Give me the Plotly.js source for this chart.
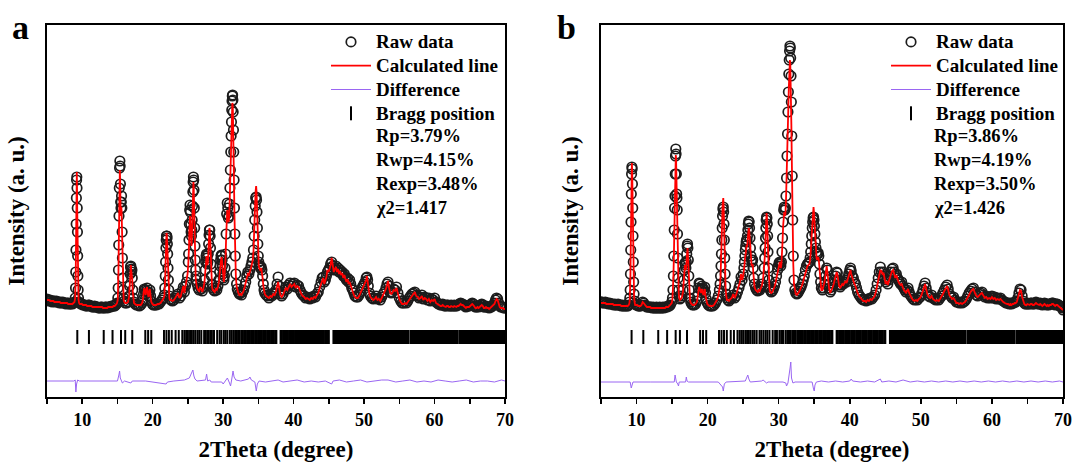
<!DOCTYPE html>
<html><head><meta charset="utf-8">
<script src="https://cdn.plot.ly/plotly-3.0.1.min.js"></script>
<style>html,body{margin:0;padding:0;background:#fff;} #chart{width:1077px;height:466px;}</style>
</head><body><div id="chart"></div>
<script>
// ---------- Panel a: observed / calculated profile ----------
const tthA = [
5.0,5.15,5.3,5.45,5.6,5.75,5.9,6.05,6.2,6.35,6.5,6.65,6.8,6.95,7.1,7.25,7.4,7.55,7.7,7.85,8.0,8.15,8.3,8.45,8.6,8.75,
8.9,9.0,9.05,9.08,9.11,9.14,9.17,9.2,9.23,9.26,9.29,9.32,9.35,9.38,9.42,9.47,9.55,9.65,
9.8,9.95,10.1,10.25,10.4,10.55,10.7,10.85,11.0,11.15,11.3,11.45,11.6,11.75,11.9,12.05,12.2,12.35,12.5,12.65,12.8,12.95,13.1,13.25,13.4,13.55,13.7,13.85,14.0,14.15,14.3,14.45,14.6,14.75,14.85,
14.95,15.05,15.1,15.14,15.18,15.22,15.26,15.3,15.34,15.38,15.42,15.46,15.5,15.54,15.58,15.62,15.66,15.7,15.75,15.8,15.88,15.97,16.1,
16.3,16.5,16.65,16.72,16.79,16.85,16.9,16.95,17.0,17.05,17.1,17.17,17.25,17.35,17.5,
17.7,17.9,18.1,18.3,18.5,
18.6,18.7,18.8,18.9,19.0,19.1,19.2,19.3,19.4,19.5,19.6,19.7,19.8,19.95,
20.1,20.3,20.5,20.7,20.9,21.1,21.3,21.5,
21.65,21.72,21.78,21.83,21.88,21.92,21.96,22.0,22.04,22.08,22.12,22.17,22.22,22.28,22.36,22.45,
22.6,22.8,23.0,23.2,23.4,23.6,23.8,24.0,24.2,24.35,24.5,24.65,24.8,24.95,25.05,
25.1,25.15,25.2,25.25,25.3,25.35,25.4,25.45,25.5,25.55,25.6,25.65,25.7,25.74,25.78,25.82,25.86,25.9,25.95,26.0,26.05,26.1,26.15,26.2,26.3,
26.45,26.6,26.75,26.9,27.05,27.2,27.35,27.45,
27.52,27.58,27.64,27.7,27.76,27.82,27.88,27.94,28.0,28.05,28.1,28.15,28.2,28.26,28.33,28.42,28.52,
28.65,28.8,28.95,29.1,29.25,29.4,29.5,
29.58,29.64,29.7,29.75,29.8,29.85,29.9,29.96,30.02,30.1,
30.18,30.26,30.34,30.42,30.5,30.58,30.66,30.74,30.82,30.9,30.96,31.02,31.08,31.13,31.18,31.22,31.26,31.3,31.34,31.38,31.42,31.46,31.5,31.55,31.6,31.66,31.72,31.8,31.9,32.0,
32.15,32.3,32.45,32.6,32.75,32.9,33.05,33.2,33.35,33.5,33.65,33.8,
33.95,34.08,34.2,34.3,34.4,34.48,34.55,34.62,34.68,34.74,34.8,34.86,34.92,34.98,35.05,35.12,35.2,35.3,35.4,35.5,35.6,35.7,35.8,35.9,
36.1,36.3,36.5,36.7,36.9,37.1,37.3,37.5,37.65,37.8,37.95,38.1,38.3,38.5,38.7,38.9,39.1,39.3,39.5,39.7,
39.9,40.1,40.3,40.5,40.7,40.9,41.1,41.3,41.5,41.7,41.9,42.1,42.3,42.5,42.7,42.9,43.1,43.3,43.5,43.7,
43.9,44.05,44.2,44.35,44.5,44.65,44.8,44.95,45.1,45.25,45.4,45.55,45.7,45.85,46.0,46.15,46.3,46.45,46.6,46.75,
46.9,47.05,47.2,47.35,47.5,47.65,47.8,47.95,48.1,48.25,48.4,48.55,48.7,48.9,49.1,49.3,49.5,49.7,49.85,50.0,
50.15,50.3,50.4,50.5,50.6,50.75,50.9,51.1,51.3,51.5,51.7,51.9,52.1,52.3,52.5,52.7,52.9,53.1,53.25,53.4,
53.55,53.7,53.85,54.0,54.2,54.4,54.6,54.8,55.0,55.2,55.4,55.6,55.8,56.0,56.2,56.4,56.6,56.8,57.0,57.2,
57.4,57.6,57.8,58.0,58.2,58.4,58.6,58.8,59.0,59.2,59.4,59.6,59.8,60.0,60.2,
60.4,60.55,60.7,60.85,61.0,61.15,61.3,61.45,61.6,61.75,61.9,62.05,62.2,62.35,62.5,62.65,62.8,62.95,63.1,63.25,
63.4,63.55,63.7,63.85,64.0,64.15,64.3,64.45,64.6,64.75,64.9,65.05,65.2,65.35,65.5,65.65,65.8,65.95,66.1,66.25,
66.4,66.55,66.7,66.85,67.0,67.15,67.3,67.45,67.6,67.75,67.9,68.05,68.2,68.35,68.5,68.65,68.8,68.95,69.1,69.25,
69.4,69.55,69.7,69.85,70.0
];
const obsA = [
21,20,19,20,19,18,19,19,18,19,18,18,17,18,17,18,17,17,16,17,17,16,16,17,16,17,
18,22,32,48,70,96,122,140,143,132,112,88,64,44,30,22,18,17,
16,16,15,15,15,14,14,15,15,14,14,13,13,14,13,13,13,12,12,13,13,12,12,13,13,12,13,13,13,14,14,14,14,15,16,
17,22,32,50,75,104,132,152,159,154,136,118,112,118,124,112,88,62,42,30,22,19,17,
17,18,24,34,46,53,54,51,48,50,42,30,22,18,16,
15,15,14,15,17,
20,26,31,30,26,29,32,28,24,27,30,24,19,16,
15,15,15,16,16,18,20,22,
25,32,44,58,72,80,84,84,82,76,66,52,40,30,24,21,
20,19,20,22,24,26,22,24,29,33,28,34,38,44,58,
66,80,96,110,115,108,96,88,84,90,100,114,128,138,143,140,130,112,92,74,60,50,44,40,36,
32,30,34,31,29,33,40,50,
58,64,66,62,56,58,66,76,85,90,90,84,72,56,44,36,32,
30,29,32,30,34,40,48,
54,60,64,65,64,60,54,46,42,40,
44,52,66,86,106,117,112,102,104,116,132,150,168,184,198,210,219,224,225,220,208,190,168,140,112,86,64,46,36,31,
28,26,27,25,28,30,34,38,44,48,46,50,
54,58,62,70,84,100,114,122,123,120,108,92,76,64,58,55,54,52,53,50,44,36,30,27,
25,24,22,25,24,27,26,30,36,43,34,26,24,26,30,33,31,35,37,34,
36,37,33,35,34,30,27,25,24,22,23,22,21,23,22,24,23,26,28,33,
38,42,43,38,40,44,48,50,52,56,58,54,50,52,54,50,52,48,50,47,
48,44,46,42,40,42,38,40,36,32,30,27,24,23,23,25,28,32,34,36,
38,42,43,40,34,27,24,22,21,22,24,21,22,20,23,26,28,32,36,38,
34,28,27,28,31,30,33,27,22,19,17,17,18,17,19,22,24,26,27,28,
25,24,22,23,25,21,23,22,20,22,19,21,20,22,18,
17,16,16,15,15,16,15,14,14,15,15,14,14,15,14,14,15,14,14,15,
15,16,17,16,16,15,14,13,14,14,14,15,16,17,16,14,13,13,14,13,
14,15,16,15,13,13,14,13,13,12,13,13,14,15,17,20,22,21,17,14,
13,13,13,12,12
];
const calcA = [
20,20,20,19,19,19,19,18,18,18,18,18,18,17,17,17,17,17,17,17,16,16,16,16,16,17,
18,22,31,47,70,98,126,146,148,134,110,84,60,41,28,21,17,16,
16,16,15,15,15,15,14,14,14,14,14,13,13,13,13,13,13,13,13,13,13,12,12,12,12,12,13,13,13,13,13,14,14,15,16,
17,21,30,48,72,100,128,146,150,140,120,104,106,113,110,94,72,50,34,25,20,18,17,
17,18,23,33,45,53,55,50,47,49,40,28,21,17,16,
15,15,15,15,17,
20,27,32,29,25,30,33,27,23,28,31,23,18,16,
15,15,15,16,16,17,19,21,
24,31,43,57,72,82,87,86,80,72,62,48,36,28,22,20,
20,19,20,22,25,27,22,24,30,34,27,33,40,46,56,
60,72,88,100,104,96,86,78,74,80,92,104,118,130,138,134,120,100,80,62,50,42,38,35,32,
30,29,33,31,28,32,38,47,
54,62,64,60,55,57,64,75,86,92,90,82,68,52,40,33,30,
29,28,31,30,33,38,46,
52,58,62,63,62,58,52,45,40,38,
42,50,62,82,100,110,106,98,100,112,128,146,162,178,192,204,212,217,216,210,198,180,158,132,106,82,62,44,34,30,
27,25,26,25,27,29,33,37,42,46,45,48,
52,56,60,68,82,100,118,130,134,128,110,90,72,60,55,52,50,49,52,48,42,34,28,26,
24,23,22,24,23,26,25,29,34,38,32,25,23,25,29,32,30,34,36,33,
35,36,32,34,33,29,26,24,23,21,22,21,20,22,21,23,22,25,27,32,
37,40,42,36,39,43,50,48,51,55,62,52,48,51,53,48,51,46,49,45,
47,42,45,41,38,41,36,38,34,30,28,25,23,22,22,24,27,31,33,35,
37,40,44,38,32,26,23,21,20,21,23,20,21,19,22,25,27,31,35,39,
32,27,26,27,30,29,32,26,21,18,16,16,17,16,18,21,23,25,26,28,
24,23,21,22,24,20,22,21,19,21,18,20,19,21,17,
16,15,15,14,14,15,14,13,13,14,14,13,13,14,13,13,14,13,13,14,
14,15,16,15,15,14,13,12,13,13,13,14,15,16,15,13,12,12,13,12,
13,14,15,14,12,12,13,12,12,11,12,12,13,14,16,19,21,20,16,13,
12,12,12,11,11
];
const diffXA = [5,8.8,9.0,9.1,9.2,9.35,9.6,12,15.0,15.2,15.3,15.4,15.55,15.7,16,16.9,17.1,19,21.9,22.1,
23,24.5,25.2,25.4,25.7,25.85,26,26.3,27.5,27.65,27.8,28.1,28.3,29.8,30,30.3,30.6,30.9,31.05,31.2,
31.4,31.55,31.8,32.5,33.6,33.8,34.0,34.5,34.7,34.85,35.1,
36,37,37.8,38.5,39.5,40.5,41.5,42.5,43.5,44.5,45.4,45.6,46.5,47.5,48.5,49.5,50.4,51.5,52.5,53.4,
54.5,55.5,56.5,57.5,58.5,59.5,60.5,61.5,62.5,63.5,64.5,65.5,66.5,67.5,68.5,69.5,70];
const diffYA = [-61,-61,-60,-72,-64,-60,-61,-61,-61,-55,-51,-58,-60,-63,-61,-63,-61,-61,-64,-62,
-61,-60,-58,-55,-50,-56,-59,-61,-60,-54,-61,-60,-62,-62,-64,-61,-58,-63,-66,-60,
-51,-57,-60,-61,-59,-57,-60,-62,-71,-64,-61,
-62,-61,-60,-62,-61,-60,-62,-61,-62,-61,-64,-61,-60,-62,-61,-60,-62,-61,-60,-60,
-62,-61,-60,-62,-61,-62,-60,-61,-62,-61,-60,-62,-61,-61,-62,-60,-61];

// ---------- Panel b ----------
const tthB = [
5.0,5.15,5.3,5.45,5.6,5.75,5.9,6.05,6.2,6.35,6.5,6.65,6.8,6.95,7.1,7.25,7.4,7.55,7.7,7.85,8.0,8.15,8.3,8.45,8.6,8.75,8.9,9.0,
9.05,9.1,9.14,9.18,9.22,9.26,9.3,9.34,9.38,9.42,9.46,9.5,9.54,9.59,9.65,9.72,9.8,
9.95,10.1,10.25,10.4,10.55,10.7,10.85,11.0,11.15,11.3,11.45,11.6,11.75,11.9,12.05,12.2,12.35,12.5,12.65,12.8,12.95,13.1,13.25,13.4,13.55,13.7,13.85,14.0,14.15,14.3,14.45,14.6,14.75,14.95,
15.05,15.12,15.18,15.24,15.3,15.35,15.4,15.44,15.48,15.52,15.56,15.6,15.64,15.68,15.72,15.76,15.8,15.86,15.93,16.0,16.1,
16.25,16.4,16.55,16.65,16.72,16.8,16.87,16.94,17.0,17.06,17.12,17.17,17.22,17.28,17.35,17.43,17.52,17.62,
17.75,17.9,18.1,18.3,18.5,
18.6,18.7,18.8,18.9,19.0,19.1,19.2,19.3,19.4,19.5,19.6,19.7,19.8,19.95,20.1,
20.3,20.5,20.7,20.9,21.1,21.3,21.5,21.65,
21.75,21.82,21.88,21.94,22.0,22.05,22.1,22.15,22.2,22.25,22.3,22.35,22.4,22.46,22.53,22.62,22.72,
22.85,23.0,23.2,23.4,23.6,23.8,24.0,24.2,24.4,24.55,24.7,24.85,25.0,
25.1,25.17,25.24,25.3,25.36,25.42,25.48,25.54,25.6,25.66,25.72,25.78,25.84,25.9,25.96,26.02,26.1,26.18,26.26,26.34,26.42,26.5,26.6,
26.75,26.9,27.05,27.2,27.35,27.5,27.65,27.8,27.95,
28.03,28.09,28.14,28.19,28.24,28.29,28.34,28.39,28.44,28.49,28.55,28.62,28.7,28.8,
28.95,29.1,29.25,29.4,29.55,29.7,29.85,
29.95,30.05,30.15,30.22,30.3,30.38,30.46,30.54,30.62,30.7,30.78,30.86,30.94,31.02,31.1,31.17,31.24,31.3,31.36,31.42,31.48,31.53,31.58,31.63,31.68,31.73,31.78,31.84,31.9,31.97,32.05,32.15,32.27,
32.4,32.55,32.7,32.85,33.0,33.15,33.3,33.45,33.6,33.75,33.9,
34.05,34.2,34.32,34.42,34.5,34.58,34.65,34.72,34.78,34.84,34.9,34.96,35.02,35.09,35.16,35.24,35.32,35.4,35.48,35.56,35.64,35.72,35.8,35.9,36.0,
36.15,36.3,36.45,36.6,36.75,36.85,36.95,37.1,37.25,37.4,37.55,37.7,37.85,38.0,38.15,38.25,38.35,38.5,38.65,38.8,
38.95,39.1,39.25,39.4,39.55,39.7,39.85,40.0,40.1,40.2,40.35,40.5,40.65,40.8,40.95,41.1,41.3,41.5,41.7,41.9,
42.1,42.3,42.5,42.7,42.9,43.1,43.3,43.5,43.7,43.85,44.0,44.15,44.3,44.45,44.6,44.75,44.9,45.05,45.2,45.35,
45.5,45.65,45.8,45.95,46.1,46.25,46.4,46.55,46.7,46.85,47.0,47.15,47.3,47.45,47.6,47.75,47.9,48.05,48.2,48.35,
48.5,48.7,48.9,49.1,49.3,49.5,49.7,49.9,50.1,50.3,50.45,50.6,50.75,50.9,51.1,51.3,51.5,51.7,51.9,52.1,
52.3,52.5,52.7,52.9,53.1,53.3,53.5,53.7,53.85,54.0,54.2,54.4,54.6,54.8,55.0,55.2,55.4,55.6,55.8,56.0,
56.2,56.4,56.6,56.8,57.0,57.2,57.4,57.6,57.8,58.0,58.2,58.4,58.6,58.8,59.0,59.2,59.4,59.6,59.8,60.0,
60.2,60.4,60.6,60.8,61.0,61.2,61.4,61.6,61.8,62.0,
62.15,62.3,62.45,62.6,62.75,62.9,63.05,63.2,63.35,63.5,63.65,63.8,63.95,64.1,64.25,64.4,64.55,64.7,64.85,65.0,
65.15,65.3,65.45,65.6,65.75,65.9,66.05,66.2,66.35,66.5,66.65,66.8,66.95,67.1,67.25,67.4,67.55,67.7,67.85,68.0,
68.15,68.3,68.45,68.6,68.75,68.9,69.05,69.2,69.35,69.5,69.65,69.8,69.9,70.0
];
const obsB = [
18,18,17,17,18,17,17,16,17,16,16,16,15,16,15,15,16,15,15,14,15,14,14,15,14,14,15,18,
22,30,46,70,98,126,146,153,151,136,112,84,58,38,26,19,16,
15,15,14,14,14,15,18,17,15,14,13,13,13,13,13,12,13,12,12,13,12,12,13,12,12,13,12,13,13,13,14,14,15,18,
22,30,44,64,90,112,124,146,164,171,166,146,126,122,110,86,62,42,30,24,21,
22,24,30,40,50,57,55,52,58,66,74,76,72,60,44,30,22,18,
16,15,15,16,19,
24,32,37,36,31,30,34,32,28,30,33,27,21,17,15,
14,14,14,15,17,20,24,30,
36,44,54,66,80,92,104,111,113,108,96,80,62,46,34,26,22,
20,19,21,22,25,22,24,28,32,36,43,40,46,
52,58,64,70,74,78,80,80,84,90,96,99,98,92,82,72,64,60,58,60,52,42,36,
32,30,29,31,30,33,36,42,52,
62,72,82,92,100,103,102,96,84,68,52,40,33,30,
28,29,31,34,38,44,50,
54,57,58,56,54,58,68,82,98,110,113,110,112,124,142,164,186,208,228,246,260,269,274,272,262,244,218,184,144,100,64,40,30,
27,26,27,29,31,33,36,40,44,50,54,
56,57,58,62,68,76,84,92,98,102,103,100,94,86,78,72,68,66,66,67,64,56,46,38,32,
30,32,36,44,52,50,40,32,28,30,33,36,40,44,48,47,40,35,33,35,
37,36,38,40,38,42,46,50,52,49,44,42,38,36,32,28,25,23,21,20,
20,19,21,20,22,21,23,25,30,36,42,48,53,48,44,48,42,38,40,36,
40,44,48,51,52,48,44,46,42,40,38,36,38,34,32,30,28,30,32,28,
25,23,21,20,21,20,22,23,26,30,34,37,32,27,24,23,25,22,21,20,
21,20,22,24,27,30,33,35,31,26,24,22,23,20,18,18,17,18,17,18,
19,21,24,27,29,31,32,28,25,24,26,27,28,25,23,24,22,23,22,24,
22,23,21,22,21,22,20,19,18,17,
17,17,16,17,16,17,17,18,18,19,22,27,31,30,24,19,17,16,16,17,
16,16,17,17,16,16,17,18,17,16,16,17,16,15,16,17,16,15,16,15,
16,16,17,17,16,15,16,16,15,14,14,13,12,10
];
const calcB = [
17,17,17,17,17,16,16,16,16,16,16,16,15,15,15,15,15,15,15,14,14,14,14,14,14,14,15,17,
21,29,45,70,100,130,152,157,150,132,106,78,52,34,23,18,15,
15,15,14,14,14,15,18,17,15,14,13,13,13,13,12,12,12,12,12,12,12,12,12,12,12,12,12,12,13,13,13,14,15,17,
21,28,42,60,84,104,116,136,156,165,162,146,130,124,110,84,60,40,28,22,20,
21,23,29,38,48,55,52,50,56,64,71,72,66,54,40,28,20,17,
16,15,15,16,18,
23,30,33,31,27,27,31,29,25,28,31,24,19,16,15,
14,14,14,15,17,20,24,29,
35,43,54,68,84,100,114,121,122,114,98,78,58,42,31,24,20,
20,19,21,22,26,22,25,29,33,38,46,40,44,
48,54,60,66,70,72,74,74,76,82,88,92,91,84,74,64,58,55,54,56,48,38,33,
30,29,28,30,29,32,35,41,52,
62,72,84,96,104,107,104,94,80,64,48,37,31,28,
27,28,30,33,37,43,49,
52,56,58,55,52,56,64,78,94,104,108,104,106,118,136,156,176,196,214,232,248,257,260,256,244,224,196,162,124,86,56,36,28,
26,25,26,28,30,32,35,39,43,48,52,
54,55,56,60,66,76,86,96,104,110,113,108,98,86,76,68,62,60,61,63,60,52,42,35,30,
30,33,38,46,54,48,38,31,27,29,32,35,39,43,48,46,38,34,32,34,
36,35,37,39,37,41,45,47,50,46,42,40,36,34,30,27,24,22,20,19,
19,18,20,19,21,20,22,24,29,35,41,46,50,49,46,47,40,36,39,35,
39,43,46,49,50,46,42,45,40,38,36,35,36,32,30,29,27,29,31,27,
24,22,20,19,20,19,21,22,25,29,33,36,31,26,23,22,24,21,20,19,
20,19,21,23,26,29,32,34,30,25,23,21,22,19,17,17,16,17,16,17,
18,20,23,26,28,30,31,27,24,23,25,26,27,24,22,23,21,22,21,23,
21,22,20,21,20,21,19,18,17,16,
16,16,15,16,15,16,16,17,17,18,21,26,30,29,23,18,16,15,15,16,
15,15,16,16,15,15,16,17,16,15,15,16,15,14,15,16,15,14,15,14,
15,15,16,16,15,14,15,15,14,13,13,12,11,10
];
const diffXB = [5,9.1,9.25,9.35,9.5,12,15.3,15.42,15.5,15.6,15.8,15.9,16.0,16.9,17.0,17.1,17.3,20,21.5,22.1,
22.2,22.35,22.6,25.3,25.55,25.65,25.8,26.0,27.6,27.8,28.3,28.5,30.6,31.0,31.1,31.3,31.6,31.7,31.8,32.0,
32.3,34.7,34.9,35.0,35.1,35.3,
36,37,38,39,40.0,40.2,40.4,41.5,42.5,43.5,44.3,44.5,45.5,46.5,47.5,48.5,49.5,50.5,51.5,52.5,
53.5,54.5,55.5,56.5,57.5,58.5,59.5,60.5,61.5,62.5,63.5,64.5,65.5,66.5,67.5,68.5,69.5,70];
const diffYB = [-62,-62,-68,-64,-62,-62,-62,-55,-58,-62,-64,-66,-62,-62,-57,-61,-62,-62,-62,-67,
-71,-64,-62,-61,-57,-55,-59,-62,-61,-60,-63,-62,-62,-63,-66,-63,-48,-42,-58,-63,
-62,-62,-69,-71,-65,-62,
-61,-62,-61,-62,-61,-59,-61,-62,-61,-62,-59,-62,-61,-62,-60,-62,-61,-62,-61,-62,
-61,-62,-61,-62,-61,-62,-61,-62,-61,-62,-61,-62,-61,-62,-61,-62,-61,-62];

// ---------- Bragg reflection positions (same phase in both panels) ----------
const braggPos = [9.3,10.95,13.05,14.3,15.5,16.1,17.1,18.95,19.35,19.8,21.6,21.95,22.3,22.7,23.25,23.7,
24.2,24.5,24.75,25.0,25.3,25.55,25.8,26.05,26.35,26.6,26.9,27.3,27.55,27.85,28.15,28.4,28.7,29.15,
29.5,29.75,30.1,30.35,30.6,30.95,31.2,31.45,31.7,31.95,32.15,32.35,32.6,32.8,33.0,33.2,33.4,33.6,33.8,34.0,
34.15,34.35,34.55,34.75,34.95,35.15,35.3,35.5,35.7,35.9,36.05,36.25,36.45,36.6,36.8,37.0,37.2,37.4,37.55,
38.15,38.3,38.5,38.65,38.8,39.0,39.15,39.35,39.5,39.7,39.85,40.0,40.2,40.35,40.55,40.7,40.9,41.05,41.2,41.4,
41.55,41.75,41.9,42.1,42.25,42.4,42.6,42.75,42.95,43.1,43.3,43.45,43.6,43.8,43.95,44.15,44.3,44.5,44.65,44.85,45.0,
45.65,45.8,45.95,46.1,46.25,46.4,46.55,46.7,46.85,47.0,47.15,47.3,47.45,47.6,47.75,47.9,48.05,48.2,48.35,48.5,
48.65,48.8,48.95,49.1,49.25,49.4,49.55,49.7,49.85,50.0,50.15,50.3,50.45,50.6,50.75,50.9,51.05,51.2,51.35,51.5,
51.65,51.8,51.95,52.1,52.25,52.4,52.55,52.7,52.85,53.0,53.15,53.3,53.45,53.6,53.75,53.9,54.05,54.2,54.35,54.5,
54.65,54.8,54.95,55.1,55.25,55.4,55.55,55.7,55.85,56.0,56.15,56.3,
56.6,56.75,56.9,57.05,57.2,57.35,57.5,57.65,57.8,57.95,58.1,58.25,58.4,58.55,58.7,58.85,59.0,59.15,59.3,59.45,
59.6,59.75,59.9,60.05,60.2,60.35,60.5,60.65,60.8,60.95,61.1,61.25,61.4,61.55,61.7,61.85,62.0,62.15,62.3,62.45,
62.6,62.75,62.9,63.05,63.2,
63.5,63.65,63.8,63.95,64.1,64.25,64.4,64.55,64.7,64.85,65.0,65.15,65.3,65.45,65.6,65.75,65.9,66.05,66.2,66.35,
66.5,66.65,66.8,66.95,67.1,67.25,67.4,67.55,67.7,67.85,68.0,68.15,68.3,68.45,68.6,68.75,68.9,69.05,69.2,69.35,
69.5,69.65,69.8,69.95];
const braggLevel = -17;

const xTickVals = [10,20,30,40,50,60,70];
const seriesNames = ['Raw data','Calculated line','Difference','Bragg position'];
const statsA = ['Rp=3.79%','Rwp=4.15%','Rexp=3.48%','χ2=1.417'];
const statsB = ['Rp=3.86%','Rwp=4.19%','Rexp=3.50%','χ2=1.426'];

// ---------- drawing ----------
const FAM = 'Liberation Serif, "Times New Roman", Times, serif';
function fnt(size){ return {family: FAM, size: size, color: '#000', weight: 'bold'}; }
function big(t){ return '<span style="font-size:19px">' + t + '</span>'; }

function panel(tth, obs, calc, dx, dy, xa, ya, leg){
  return [
    {type:'scatter', mode:'markers', x:tth, y:obs, name:big(seriesNames[0]), xaxis:xa, yaxis:ya, legend:leg,
     marker:{symbol:'circle-open', size:9.5, color:'#1c1c1c', line:{width:1.7, color:'#1c1c1c'}}},
    {type:'scatter', mode:'lines', x:tth, y:calc, name:big(seriesNames[1]), xaxis:xa, yaxis:ya, legend:leg,
     line:{color:'#ff0000', width:1.8}},
    {type:'scatter', mode:'lines', x:dx, y:dy, name:big(seriesNames[2]), xaxis:xa, yaxis:ya, legend:leg,
     line:{color:'#9a66f2', width:1}},
    {type:'scatter', mode:'markers', x:braggPos, y:braggPos.map(() => braggLevel), name:big(seriesNames[3]), xaxis:xa, yaxis:ya,
     legend:leg, marker:{symbol:'line-ns', size:10, color:'#000', line:{width:2, color:'#000'}}}
  ];
}

function xAxis(domain, anchor){
  return {domain:domain, anchor:anchor, range:[5,70], tickmode:'array', tickvals:xTickVals,
    ticks:'outside', ticklen:5, tickwidth:1.5, tickcolor:'#000',
    minor:{dtick:5, tick0:0, ticks:'outside', ticklen:5, tickwidth:1.5, tickcolor:'#000'},
    showline:true, linewidth:2, linecolor:'#000', mirror:true, showgrid:false, zeroline:false,
    tickfont:fnt(18), title:{text:'2Theta (degree)', font:fnt(23), standoff:12}};
}
function yAxis(anchor){
  return {domain:[0,1], anchor:anchor, range:[-77,295], showticklabels:false, ticks:'',
    showline:true, linewidth:2, linecolor:'#000', mirror:true, showgrid:false, zeroline:false,
    title:{text:'Intensity (a. u.)', font:fnt(23), standoff:14}};
}
function legendAt(x){
  return {x:x, y:1.0, xanchor:'left', yanchor:'top', bgcolor:'rgba(0,0,0,0)', borderwidth:0,
    font:fnt(16), tracegroupgap:0, itemwidth:40, traceorder:'normal'};
}
function statAnn(x, lines){
  const centers = [136, 160, 184, 208];  // text line centres in px from top
  return lines.map((t, i) => ({xref:'paper', yref:'paper', x:x, y:(397 - centers[i]) / 372, text:t,
    showarrow:false, font:fnt(18.5), xanchor:'left', yanchor:'middle', align:'left'}));
}

const data = [].concat(
  panel(tthA, obsA, calcA, diffXA, diffYA, 'x', 'y', 'legend'),
  panel(tthB, obsB, calcB, diffXB, diffYB, 'x2', 'y2', 'legend2')
);

const layout = {
  width:1077, height:466, margin:{l:47, r:14, t:25, b:69},
  paper_bgcolor:'#fff', plot_bgcolor:'#fff', hovermode:false, showlegend:true,
  font:fnt(18),
  xaxis: xAxis([0, 0.4508], 'y'),
  yaxis: yAxis('x'),
  xaxis2: xAxis([0.5453, 1], 'y2'),
  yaxis2: yAxis('x2'),
  legend: legendAt(0.2746),
  legend2: legendAt(0.8258),
  annotations: [
    {xref:'paper', yref:'paper', x:-0.0256, y:0.992, text:'a', showarrow:false, font:fnt(34), xanchor:'center', yanchor:'middle'},
    {xref:'paper', yref:'paper', x:0.5118, y:0.992, text:'b', showarrow:false, font:fnt(34), xanchor:'center', yanchor:'middle'}
  ].concat(statAnn(0.3218, statsA), statAnn(0.8710, statsB))
};

Plotly.newPlot('chart', data, layout, {staticPlot:true, displayModeBar:false});
</script></body></html>
